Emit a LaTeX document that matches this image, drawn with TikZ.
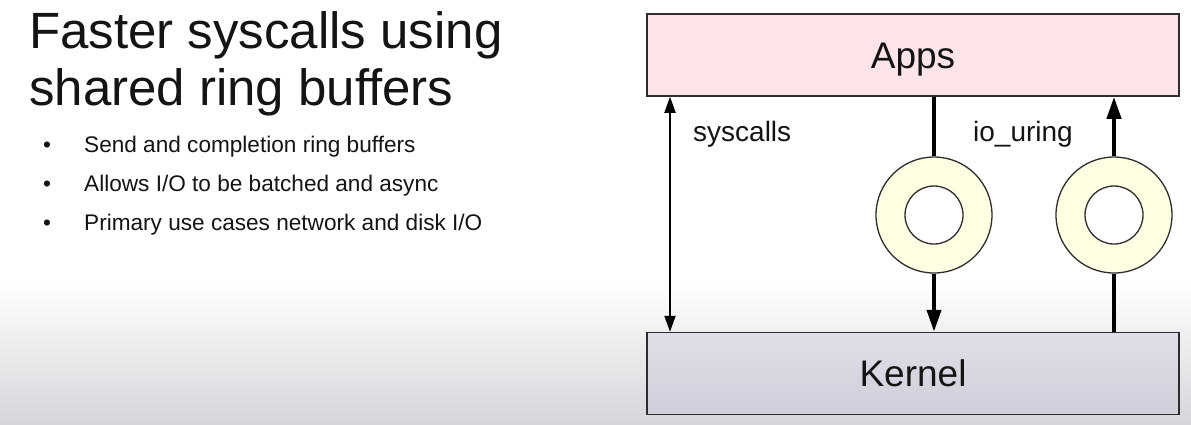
\documentclass[tikz,border=0pt]{standalone}
\usepackage{fontspec}
\setmainfont{Liberation Sans}
\usetikzlibrary{arrows.meta}
\definecolor{appsfill}{RGB}{255,228,233}
\definecolor{kerntop}{RGB}{224,222,232}
\definecolor{kernbot}{RGB}{208,206,218}
\definecolor{ringfill}{RGB}{255,255,228}
\definecolor{edge}{RGB}{45,45,45}
\definecolor{bgbot}{RGB}{214,213,218}
\definecolor{ink}{RGB}{20,20,20}
\begin{document}
\begin{tikzpicture}[x=1pt,y=-1pt,
  layerbox/.style={draw=edge, line width=1.5pt, minimum width=532pt, minimum height=82pt,
    inner sep=0pt, text height=26.5pt, text depth=0pt, font=\fontsize{37}{44}\selectfont, text=ink},
  ringout/.style={circle, draw=edge, line width=1.3pt, fill=ringfill, minimum size=116pt, inner sep=0pt},
  ringin/.style={circle, draw=edge, line width=1.3pt, fill=white, minimum size=58pt, inner sep=0pt},
  thinarrow/.style={line width=2pt, draw=black},
  thickarrow/.style={line width=4pt, draw=black},
  bighead/.style={-{Triangle[width=14pt,length=22pt]}},
  lbl/.style={anchor=base west, inner sep=0pt, font=\fontsize{28}{33}\selectfont, text=ink},
  titletext/.style={anchor=base west, inner sep=0pt, font=\fontsize{51}{60}\selectfont, text=ink},
  bullettext/.style={anchor=base west, inner sep=0pt, font=\fontsize{22.6}{27}\selectfont, text=ink},
  dotmark/.style={anchor=base, inner sep=0pt, font=\fontsize{22.6}{27}\selectfont, text=ink}]
\useasboundingbox (0,0) rectangle (1191,424);
% background
\fill[white] (0,0) rectangle (1191,282);
\shade[top color=white, bottom color=bgbot] (0,281) rectangle (1191,424);
% title
\node[titletext] (t1) at (29,48) {Faster syscalls using};
\node[titletext] (t2) at (29,105) {shared ring buffers};
% bullets
\node[dotmark] (d1) at (47,152) {•};
\node[bullettext] (b1) at (84,152) {Send and completion ring buffers};
\node[dotmark] (d2) at (47,191) {•};
\node[bullettext] (b2) at (84,191) {Allows I/O to be batched and async};
\node[dotmark] (d3) at (47,230) {•};
\node[bullettext] (b3) at (84,230) {Primary use cases network and disk I/O};
% boxes
\node[layerbox, fill=appsfill] (apps) at (913,55) {Apps};
\node[layerbox, top color=kerntop, bottom color=kernbot] (kernel) at (913,373.5) {Kernel};
% rings
\node[ringout] (ring1) at (934,215) {};
\node[ringin] (hole1) at (ring1.center) {};
\node[ringout] (ring2) at (1114,215) {};
\node[ringin] (hole2) at (ring2.center) {};
% labels
\node[lbl] (sys) at (693,141) {syscalls};
\node[lbl] (uring) at (973,141) {io\_uring};
% connectors
\coordinate (sysx) at (670,0);
\draw[thinarrow, {Triangle[width=11pt,length=16pt]}-{Triangle[width=11pt,length=16pt]}]
  (apps.south -| sysx) -- (kernel.north -| sysx);
\draw[thickarrow] (apps.south -| ring1) -- (ring1.north);
\draw[thickarrow, bighead] (ring1.south) -- (kernel.north -| ring1);
\draw[thickarrow] (kernel.north -| ring2) -- (ring2.south);
\draw[thickarrow, bighead] (ring2.north) -- (apps.south -| ring2);
\end{tikzpicture}
\end{document}
